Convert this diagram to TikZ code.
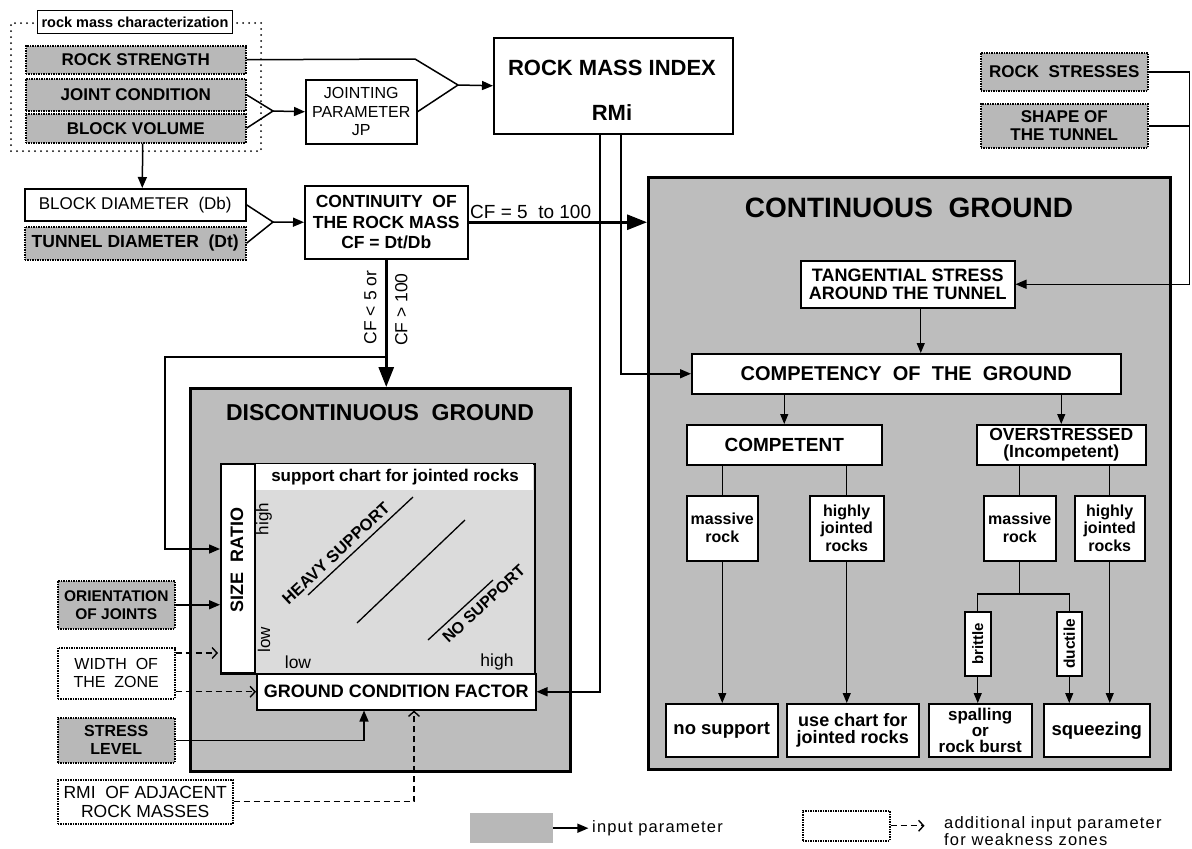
\documentclass[tikz,border=0pt]{standalone}
\usepackage{fontspec}
\setmainfont{Liberation Sans}
\newfontfamily\spacedfont[LetterSpace=7]{Liberation Sans}
\usetikzlibrary{arrows.meta,calc}
\definecolor{ingray}{gray}{0.72}
\definecolor{grgray}{gray}{0.74}
\definecolor{chartgray}{gray}{0.86}
\newcommand{\fsz}[2]{\fontsize{#1}{#2}\selectfont}
\begin{document}
\begin{tikzpicture}[x=1pt, y=-1pt,
  base/.style={inner sep=0pt, anchor=north west, align=center},
  sz/.style 2 args={minimum width=#1pt, minimum height=#2pt},
  wbox/.style={base, draw, line width=1.5pt, fill=white},
  ibox/.style={base, draw, densely dotted, line width=1.5pt, fill=ingray},
  dbox/.style={base, draw, densely dotted, line width=1.5pt, fill=white},
  ground/.style={base, draw, line width=3pt, fill=grgray},
  lbl/.style={inner sep=0pt, align=center},
  arr/.style={line width=1.5pt, -{Triangle[length=11pt,width=9pt]}},
  tarr/.style={line width=1.2pt, -{Triangle[length=10pt,width=8pt]}},
  bigarr/.style={line width=3pt, -{Triangle[length=20pt,width=15pt]}},
  darr/.style={line width=1.4pt, dash pattern=on 6pt off 4pt, -{Straight Barb[length=5pt,width=11pt]}},
  ln/.style={line width=1.5pt},
  tln/.style={line width=1.2pt}
]
\useasboundingbox (0,0) rectangle (1192,849);
\fill[white] (0,0) rectangle (1192,849);

% ---------- rock mass characterization group
\node[base, draw, line width=2pt, dash pattern=on 0pt off 6pt, line cap=round, sz={250}{128}] (grp) at (10,22) {};
\node[wbox, line width=1pt, sz={195}{23}, font=\bfseries\fsz{14.5}{16}] (rmc) at (37,10) {rock mass characterization};
\node[ibox, sz={220}{28}, font=\bfseries\fsz{17}{18}] (rs) at (25,45) {ROCK STRENGTH};
\node[ibox, sz={220}{32}, font=\bfseries\fsz{17}{18}] (jc) at (25,78) {JOINT CONDITION};
\node[ibox, sz={220}{29}, font=\bfseries\fsz{17}{18}] (bv) at (25,113) {BLOCK VOLUME};
\node[wbox, sz={111}{64}, font=\fsz{16}{18.5}] (jp) at (305,79) {JOINTING\\PARAMETER\\JP};
\node[wbox, sz={239}{96}] (rmi) at (493,37) {};
\node[lbl, font=\bfseries\fsz{22}{24}] (rmit) at (612,68) {ROCK MASS INDEX};
\node[lbl, font=\bfseries\fsz{22}{24}] (rmis) at (612,113) {RMi};

\coordinate (jn) at (458,85);
\coordinate (j1) at (273,111);
\draw[ln] (rs.east) -- (415,59) -- (jn);
\draw[ln] (jc.east) -- (j1) -- (bv.east);
\draw[arr] (j1) -- (jp.west);
\draw[ln] (jp.east) -- (jn);
\draw[arr] (jn) -- (rmi.west);

% ---------- stresses
\node[ibox, sz={167}{38}, font=\bfseries\fsz{17}{18}] (rst) at (980,52) {ROCK\ \ STRESSES};
\node[ibox, sz={167}{44}, font=\bfseries\fsz{17}{17.5}] (sht) at (980,103) {SHAPE OF\\THE TUNNEL};

% ---------- continuity
\node[wbox, sz={221}{32}, font=\fsz{17}{19}] (bd) at (24,188) {BLOCK DIAMETER\ \ (Db)};
\node[ibox, sz={221}{33}, font=\bfseries\fsz{17.5}{19}] (td) at (24,226) {TUNNEL DIAMETER\ \ (Dt)};
\draw[arr] ($(bv.south)+(7,0)$) -- ($(bd.north)+(7,0)$);
\coordinate (j2) at (273,222);
\draw[ln] (bd.east) -- (j2) -- (td.east);
\node[wbox, sz={163}{73}, font=\bfseries\fsz{17.5}{20.5}] (cont) at (304,185) {CONTINUITY\ \ OF\\THE ROCK MASS\\CF = Dt/Db};
\draw[arr] (j2) -- (cont.west);

% ---------- ground boxes
\node[ground, sz={380}{383}] (dg) at (189,387) {};
\node[ground, sz={522}{592}] (cg) at (647,176) {};

% ---------- discontinuous ground
\node[lbl, font=\bfseries\fsz{23}{25}] (dgt) at (380,413) {DISCONTINUOUS\ \ GROUND};
\node[base, draw, line width=1.5pt, fill=chartgray, sz={314}{210}] (chart) at (220,463) {};
\fill[white] (255,464) rectangle (533,490);
\node[lbl, font=\bfseries\fsz{17}{19}] (cht) at (395,477) {support chart for jointed rocks};
\node[wbox, sz={34}{209}] (sr) at (220,463) {};
\node[lbl, rotate=90, font=\bfseries\fsz{18}{20}] (srt) at (237,560) {SIZE\ \ RATIO};
\node[lbl, rotate=90, font=\fsz{17}{19}] (hi1) at (264,519) {high};
\node[lbl, rotate=90, font=\fsz{17}{19}] (lo1) at (264,640) {low};
\node[lbl, font=\fsz{17.5}{19}] (lo2) at (298,662) {low};
\node[lbl, font=\fsz{17.5}{19}] (hi2) at (497,662) {high};
\coordinate (l1a) at (308,595); \coordinate (l1b) at (413,497);
\coordinate (l2a) at (357,623); \coordinate (l2b) at (465,520);
\coordinate (l3a) at (428,640); \coordinate (l3b) at (493,580);
\draw[line width=1.3pt] (l1a) -- node[sloped, above=5pt, pos=0.34, inner sep=0pt, font=\bfseries\fsz{16.5}{17}] (hs) {HEAVY SUPPORT} (l1b);
\draw[line width=1.3pt] (l2a) -- (l2b);
\draw[line width=1.3pt] (l3a) -- node[sloped, below=5pt, pos=0.74, inner sep=0pt, font=\bfseries\fsz{16}{17}] (ns2) {NO SUPPORT} (l3b);
\node[wbox, sz={279}{36}, font=\bfseries\fsz{18}{19}] (gcf) at (256,673) {GROUND CONDITION FACTOR};

% ---------- left inputs
\node[ibox, sz={117}{48}, font=\bfseries\fsz{15.5}{18}] (ori) at (57,580) {ORIENTATION\\OF JOINTS};
\node[dbox, sz={117}{51}, font=\fsz{16}{18}] (wz) at (57,647) {WIDTH\ \ OF\\THE\ \ ZONE};
\node[ibox, sz={117}{45}, font=\bfseries\fsz{16}{18}] (sl) at (57,717) {STRESS\\LEVEL};
\node[dbox, sz={175}{44}, font=\fsz{17.5}{18.5}] (ra) at (57,779) {RMI\ \ OF ADJACENT\\ROCK MASSES};

% ---------- continuous ground
\node[lbl, font=\bfseries\fsz{28}{30}] (cgt) at (909,208) {CONTINUOUS\ \ GROUND};
\node[wbox, sz={214}{47}, font=\bfseries\fsz{18}{18.5}] (tang) at (800,260) {TANGENTIAL STRESS\\AROUND THE TUNNEL};
\node[wbox, sz={429}{40}, font=\bfseries\fsz{20}{22}] (comp) at (691,353) {COMPETENCY\ \ OF\ \ THE\ \ GROUND};
\node[wbox, sz={195}{40}, font=\bfseries\fsz{19}{20}] (cpt) at (686,424) {COMPETENT};
\node[wbox, sz={169}{40}, font=\bfseries\fsz{17.5}{17.5}] (ovs) at (976,424) {OVERSTRESSED\\(Incompetent)};
\node[wbox, sz={71}{65}, font=\bfseries\fsz{16}{18}] (mr1) at (686,495) {massive\\rock};
\node[wbox, sz={74}{65}, font=\bfseries\fsz{16}{17.5}] (hj1) at (809,495) {highly\\jointed\\rocks};
\node[wbox, sz={72}{65}, font=\bfseries\fsz{16}{18}] (mr2) at (983,495) {massive\\rock};
\node[wbox, sz={70}{65}, font=\bfseries\fsz{16}{17.5}] (hj2) at (1074,495) {highly\\jointed\\rocks};
\node[wbox, sz={26}{64}] (br) at (964,611) {};
\node[lbl, rotate=90, font=\bfseries\fsz{15}{17}] (brt) at (br.center) {brittle};
\node[wbox, sz={25}{64}] (du) at (1056,611) {};
\node[lbl, rotate=90, font=\bfseries\fsz{15.5}{17}] (dut) at (du.center) {ductile};
\node[wbox, sz={112}{53}, font=\bfseries\fsz{18.5}{20}] (nsp) at (665,703) {no support};
\node[wbox, sz={132}{53}, font=\bfseries\fsz{18}{16.5}] (uc) at (786,703) {use chart for\\jointed rocks};
\node[wbox, sz={103}{53}, font=\bfseries\fsz{17}{16}] (spl) at (928,703) {spalling\\or\\rock burst};
\node[wbox, sz={106}{53}, font=\bfseries\fsz{18.5}{20}] (sq) at (1043,703) {squeezing};

% ---------- connectors: continuity
\draw[bigarr] (cont.east) -- (cont.east -| cg.west);
\node[lbl, anchor=south west, font=\fsz{19}{20}] (cf1) at (470,219) {CF = 5\ \ to 100};
\draw[bigarr] (cont.south) -- (cont.south |- dg.north);
\node[lbl, rotate=90, font=\fsz{17.5}{20}] (cf2) at ($(cont.south)+(-16,48)$) {CF < 5 or};
\node[lbl, rotate=90, font=\fsz{17.5}{20}] (cf3) at ($(cont.south)+(15,50)$) {CF > 100};
\coordinate (fb) at (cont.south |- 0,357);
\draw[arr] (fb) -| (165,549) -- (sr.west |- 0,549);

% ---------- connectors: discontinuous
\draw[arr] (ori.east) -- (ori.east -| sr.west);
\draw[darr] (wz.east |- 0,653) -- (218,653);
\draw[darr] (wz.east |- gcf.west) -- (gcf.west);
\draw[arr] (sl.east) -| ($(gcf.south west)+(108,0)$);
\draw[darr] (ra.east) -| ($(gcf.south west)+(158,0)$);
\draw[arr] ($(rmi.south west)+(107,0)$) |- (gcf.east);
\draw[arr] ($(rmi.south west)+(128,0)$) |- (comp.west);

% ---------- connectors: continuous
\coordinate (rx) at ($(tang.east)+(174,0)$);
\draw[arr] (rst.east) -| (rx) -- (tang.east);
\draw[ln] (sht.east) -- (sht.east -| rx);
\coordinate (ta) at ($(tang.south)+(13,0)$);
\draw[tarr] (ta) -- (ta |- comp.north);
\draw[tarr] (cpt.north |- comp.south) -- (cpt.north);
\draw[tarr] (ovs.north |- comp.south) -- (ovs.north);
\draw[tln] (mr1.north |- cpt.south) -- (mr1.north);
\draw[tln] (hj1.north |- cpt.south) -- (hj1.north);
\draw[tln] (mr2.north |- ovs.south) -- (mr2.north);
\draw[tln] (hj2.north |- ovs.south) -- (hj2.north);
\draw[tarr] (mr1.south) -- (mr1.south |- nsp.north);
\draw[tarr] (hj1.south) -- (hj1.south |- uc.north);
\draw[tln] (mr2.south) -- (mr2.south |- 0,594);
\draw[tln] (br.north) -- (br.north |- 0,594) -- (du.north |- 0,594) -- (du.north);
\draw[tarr] (br.south) -- (br.south |- spl.north);
\draw[tarr] (du.south) -- (du.south |- sq.north);
\draw[tarr] (hj2.south) -- (hj2.south |- sq.north);

% ---------- legend
\node[base, fill=ingray, sz={83}{30}] (lg1) at (470,813) {};
\draw[arr] (lg1.east) -- ++(35,0);
\node[lbl, anchor=west, font=\spacedfont\fsz{16.5}{18}] (lt1) at (592,828) {input parameter};
\node[dbox, sz={87}{30}] (lg2) at (802,810) {};
\draw[darr] (lg2.east) -- ++(34,0);
\node[lbl, anchor=west, align=left, font=\spacedfont\fsz{16.5}{17}] (lt2) at (944,831) {additional input parameter\\for weakness zones};
\end{tikzpicture}
\end{document}
